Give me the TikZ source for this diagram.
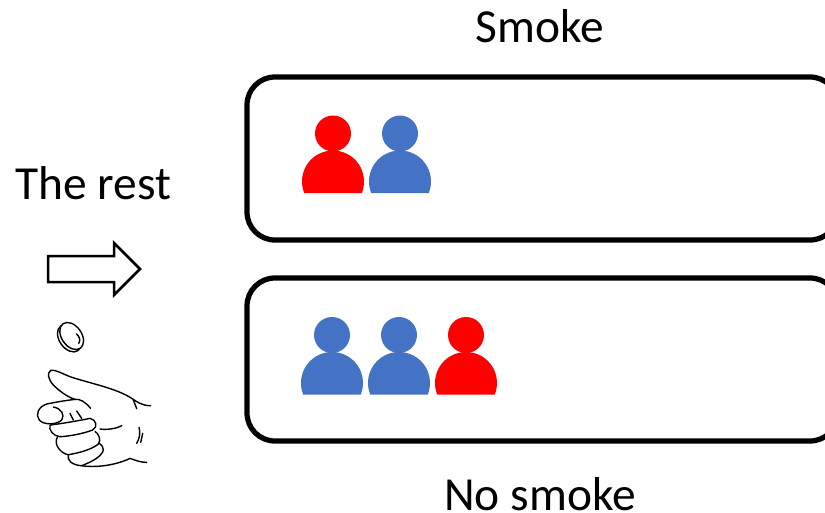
\documentclass[tikz,border=0pt]{standalone}
\usepackage{fontspec}
\setmainfont{Carlito}
\definecolor{personblue}{HTML}{4472C4}
\tikzset{
    group/.style={draw, line width=1.05mm, rounded corners=5.6mm, minimum width=11.82cm, minimum height=3.26cm, outer sep=0pt, anchor=north west},
    caption/.style={font=\fontsize{27}{32}\selectfont},
    handline/.style={line width=0.28mm, line cap=round, line join=round},
    person/.pic={
        \fill (0,-48) circle [radius=18];
        \fill (0,0) ++(158:31) arc [start angle=158, end angle=382, radius=31] -- cycle;
    }
}
\begin{document}
\begin{tikzpicture}[x=0.2mm, y=-0.2mm]
    \useasboundingbox[clip] (0,0) rectangle (825,513);

    % Captions
    \node[caption] (smoke) at (540,26) {Smoke};
    \node[caption] (rest) at (93,183) {The rest};
    \node[caption] (nosmoke) at (540,494) {No smoke};

    % Groups
    \node[group] (top) at (247,77) {};
    \node[group] (bottom) at (247,278) {};

    % People
    \pic[red] at (333,181.5) {person};
    \pic[personblue] at (400,181.5) {person};
    \pic[personblue] at (332,383) {person};
    \pic[personblue] at (399,383) {person};
    \pic[red] at (466,383) {person};

    % Arrow
    \draw[line width=0.5mm] (48,256) -- (114,256) -- (114,243) -- (140,269) -- (114,295) -- (114,282) -- (48,282) -- cycle;

    % Coin and hand
    \begin{scope}[shift={(20,310)}, x=0.0667mm, y=-0.0667mm, handline]
        \draw (148,85) ellipse [x radius=0.3cm, y radius=0.2cm, rotate=-55];
        \draw[fill=white] (155,78) ellipse [x radius=0.3cm, y radius=0.2cm, rotate=-55];
        \draw (170,72) .. controls (180,82) and (182,92) .. (176,100);
        % back of the hand and thumb
        \draw (392,287) .. controls (365,287) and (350,275) .. (335,265)
            .. controls (290,235) and (210,220) .. (150,200)
            .. controls (125,190) and (105,178) .. (92,181)
            .. controls (80,190) and (85,208) .. (100,225)
            .. controls (115,240) and (140,260) .. (165,268)
            .. controls (180,266) and (195,275) .. (212,295);
        \draw (340,270) -- (350,296);
        % curled fingers
        \draw (165,268) .. controls (130,272) and (100,278) .. (80,282)
            .. controls (55,290) and (45,315) .. (58,330)
            .. controls (70,345) and (110,345) .. (125,330)
            .. controls (135,315) and (125,295) .. (100,291);
        \draw (90,345) .. controls (130,340) and (175,332) .. (210,325)
            .. controls (228,328) and (235,350) .. (218,360)
            .. controls (185,372) and (150,378) .. (120,380)
            .. controls (100,378) and (85,360) .. (90,345);
        \draw (112,382) .. controls (100,400) and (120,430) .. (145,434)
            .. controls (180,428) and (215,418) .. (235,402)
            .. controls (245,390) and (235,370) .. (225,364);
        \draw (145,434) .. controls (140,450) and (155,465) .. (185,467)
            .. controls (215,455) and (245,440) .. (250,420)
            .. controls (250,410) and (245,405) .. (238,400);
        \draw (185,467) .. controls (240,475) and (300,460) .. (330,445)
            .. controls (345,450) and (360,457) .. (380,457);
        % creases
        \draw (240,357) .. controls (265,360) and (290,355) .. (305,347);
        \draw (150,310) -- (160,330);
        \draw (170,303) -- (185,325);
        \draw (357,352) .. controls (362,370) and (358,385) .. (350,400);
        \draw (368,370) -- (362,397);
    \end{scope}
\end{tikzpicture}
\end{document}
